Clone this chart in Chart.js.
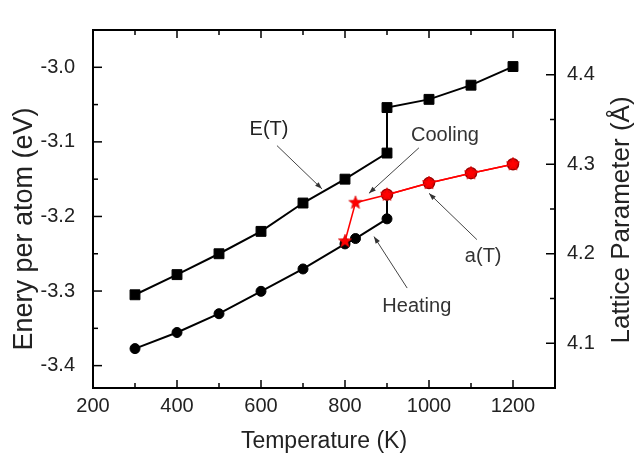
<!DOCTYPE html>
<html>
<head>
<meta charset="utf-8">
<script src="https://cdn.jsdelivr.net/npm/chart.js@4.4.0/dist/chart.umd.min.js"></script>
<style>
  body { margin: 0; background: #fff; }
</style>
</head>
<body>
<canvas id="myChart" width="635" height="453"></canvas>
<script>
// E(T), left axis
let tempE = [300, 400, 500, 600, 700, 800, 900, 900, 1000, 1100, 1200];
let energy = [-3.305, -3.278, -3.250, -3.220, -3.182, -3.150, -3.115, -3.054, -3.043, -3.024, -2.999];
// a(T) heating / cooling, right axis
let tempHeat = [300, 400, 500, 600, 700, 800, 825, 900, 900, 1000, 1100, 1200];
let latticeHeat = [4.094, 4.112, 4.133, 4.158, 4.183, 4.211, 4.217, 4.239, 4.266, 4.279, 4.290, 4.300];
let tempCool = [1200, 1100, 1000, 900, 825, 800];
let latticeCool = [4.300, 4.290, 4.279, 4.266, 4.257, 4.214];
// tick labels
let xTicks = [200, 400, 600, 800, 1000, 1200];
let energyTicks = [-3.4, -3.3, -3.2, -3.1, -3.0];
let latticeTicks = [4.1, 4.2, 4.3, 4.4];

const RED = '#ff0000';
const DARKRED = '#9a0000';

function pts(xs, ys) {
    return xs.map((x, i) => ({x: x, y: ys[i]}));
}

// filled five point star used as point style
function makeStar(r) {
    let c = document.createElement('canvas');
    c.width = c.height = r * 2 + 2;
    let g = c.getContext('2d');
    g.translate(r + 1, r + 1);
    g.beginPath();
    for (let i = 0; i < 10; i++) {
        let rad = i % 2 == 0 ? r : r * 0.42;
        let ang = -Math.PI / 2 + i * Math.PI / 5;
        g.lineTo(rad * Math.cos(ang), rad * Math.sin(ang));
    }
    g.closePath();
    g.fillStyle = RED;
    g.fill();
    g.strokeStyle = '#d00000';
    g.lineWidth = 0.6;
    g.stroke();
    return c;
}
const star = makeStar(7);

// text notes with arrows, in data units (x, left axis)
const notes = [
    {text: 'E(T)', at: [619, -3.083], from: [638, -3.105], to: [745, -3.163]},
    {text: 'Cooling', at: [1038, -3.091], from: [976, -3.108], to: [857, -3.169]},
    {text: 'a(T)', at: [1129, -3.253], from: [1114, -3.231], to: [1000, -3.169]},
    {text: 'Heating', at: [971, -3.321], from: [948, -3.296], to: [869, -3.227]},
];

const FONT = "'Liberation Sans', Arial, sans-serif";

const framePlugin = {
    id: 'frame',
    afterDraw(chart) {
        const ctx = chart.ctx;
        const a = chart.chartArea;
        const x = chart.scales.x, yE = chart.scales.yE, yA = chart.scales.yA;
        ctx.save();
        ctx.strokeStyle = '#000';
        ctx.lineWidth = 1.5;
        function seg(x1, y1, x2, y2) {
            ctx.beginPath(); ctx.moveTo(x1, y1); ctx.lineTo(x2, y2); ctx.stroke();
        }
        // inward ticks, bottom and top
        for (let t = 300; t <= 1200; t += 100) {
            let px = x.getPixelForValue(t);
            let len = t % 200 == 0 ? 8 : 5;
            seg(px, a.bottom, px, a.bottom - len);
            seg(px, a.top, px, a.top + len);
        }
        // left ticks every 0.05
        for (let k = -68; k <= -59; k++) {
            let py = yE.getPixelForValue(k * 0.05);
            if (py < a.top + 3 || py > a.bottom - 3) continue;
            seg(a.left, py, a.left + (k % 2 == 0 ? 9 : 5), py);
        }
        // right ticks every 0.05
        for (let k = 81; k <= 89; k++) {
            let py = yA.getPixelForValue(k * 0.05);
            if (py < a.top + 3 || py > a.bottom - 3) continue;
            seg(a.right, py, a.right - (k % 2 == 0 ? 9 : 5), py);
        }
        ctx.lineWidth = 2;
        ctx.strokeRect(a.left, a.top, a.right - a.left, a.bottom - a.top);

        // notes
        ctx.fillStyle = '#222';
        ctx.font = '20px ' + FONT;
        ctx.textAlign = 'center';
        ctx.textBaseline = 'middle';
        notes.forEach(n => {
            ctx.fillText(n.text, x.getPixelForValue(n.at[0]), yE.getPixelForValue(n.at[1]));
            let x1 = x.getPixelForValue(n.from[0]), y1 = yE.getPixelForValue(n.from[1]);
            let x2 = x.getPixelForValue(n.to[0]), y2 = yE.getPixelForValue(n.to[1]);
            ctx.strokeStyle = '#444';
            ctx.lineWidth = 1;
            seg(x1, y1, x2, y2);
            let ang = Math.atan2(y2 - y1, x2 - x1);
            ctx.beginPath();
            ctx.moveTo(x2, y2);
            ctx.lineTo(x2 - 7 * Math.cos(ang) + 2.5 * Math.sin(ang), y2 - 7 * Math.sin(ang) - 2.5 * Math.cos(ang));
            ctx.lineTo(x2 - 7 * Math.cos(ang) - 2.5 * Math.sin(ang), y2 - 7 * Math.sin(ang) + 2.5 * Math.cos(ang));
            ctx.closePath();
            ctx.fillStyle = '#333';
            ctx.fill();
        });

        // axis titles
        ctx.fillStyle = '#222';
        ctx.font = '23px ' + FONT;
        ctx.fillText('Temperature (K)', (a.left + a.right) / 2, 442);
        ctx.save();
        ctx.translate(25, 229);
        ctx.rotate(-Math.PI / 2);
        ctx.font = '27px ' + FONT;
        ctx.fillText('Enery per atom (eV)', 0, 0);
        ctx.restore();
        ctx.save();
        ctx.translate(622, 220);
        ctx.rotate(-Math.PI / 2);
        ctx.font = '26px ' + FONT;
        ctx.fillText('Lattice Parameter (\u00C5)', 0, 0);
        ctx.restore();
        ctx.restore();
    }
};

const tickFont = {family: FONT, size: 20};

var ctx = document.getElementById('myChart').getContext('2d');
var myChart = new Chart(ctx, {
    type: 'line',
    data: {
        datasets: [{
            label: 'Cooling',
            yAxisID: 'yA',
            data: pts(tempCool, latticeCool),
            borderColor: RED,
            borderWidth: 1.5,
            pointStyle: star,
            pointRadius: 7,
            order: 0
        }, {
            label: 'Heating',
            yAxisID: 'yA',
            data: pts(tempHeat, latticeHeat),
            borderColor: '#000',
            borderWidth: 2,
            segment: {
                borderColor: c => c.p0DataIndex >= 8 ? RED : '#000',
                borderWidth: c => c.p0DataIndex >= 8 ? 1.5 : 2
            },
            pointStyle: 'circle',
            pointRadius: tempHeat.map((t, i) => i >= 8 ? 5.5 : 5),
            pointBackgroundColor: tempHeat.map((t, i) => i >= 8 ? RED : '#000'),
            pointBorderColor: tempHeat.map((t, i) => i >= 8 ? DARKRED : '#000'),
            pointBorderWidth: tempHeat.map((t, i) => i >= 8 ? 1.5 : 1),
            order: 1
        }, {
            label: 'E(T)',
            yAxisID: 'yE',
            data: pts(tempE, energy),
            borderColor: '#000',
            borderWidth: 2,
            pointStyle: 'rect',
            pointRadius: 7,
            pointBackgroundColor: '#000',
            pointBorderColor: '#000',
            pointBorderWidth: 1,
            order: 2
        }]
    },
    options: {
        responsive: false,
        animation: false,
        events: [],
        layout: {padding: {top: 13, left: 0, right: 0, bottom: 0}},
        plugins: {
            legend: {display: false},
            tooltip: {enabled: false}
        },
        scales: {
            x: {
                type: 'linear',
                min: 200,
                max: 1300,
                grid: {display: false, drawTicks: false},
                border: {display: false},
                afterBuildTicks: s => { s.ticks = xTicks.map(v => ({value: v})); },
                afterFit: s => { s.height = 65; },
                ticks: {font: tickFont, color: '#222', padding: 6, maxRotation: 0,
                    callback: v => String(v)}
            },
            yE: {
                type: 'linear',
                position: 'left',
                min: -3.43,
                max: -2.95,
                grid: {display: false, drawTicks: false},
                border: {display: false},
                afterBuildTicks: s => { s.ticks = energyTicks.map(v => ({value: v})); },
                afterFit: s => { s.width = 93; },
                ticks: {font: tickFont, color: '#222', padding: 18,
                    callback: v => v.toFixed(1)}
            },
            yA: {
                type: 'linear',
                position: 'right',
                min: 4.05,
                max: 4.45,
                grid: {display: false, drawTicks: false},
                border: {display: false},
                afterBuildTicks: s => { s.ticks = latticeTicks.map(v => ({value: v})); },
                afterFit: s => { s.width = 80; },
                ticks: {font: tickFont, color: '#222', padding: 12,
                    callback: v => v.toFixed(1)}
            }
        }
    },
    plugins: [framePlugin]
});
</script>
</body>
</html>
